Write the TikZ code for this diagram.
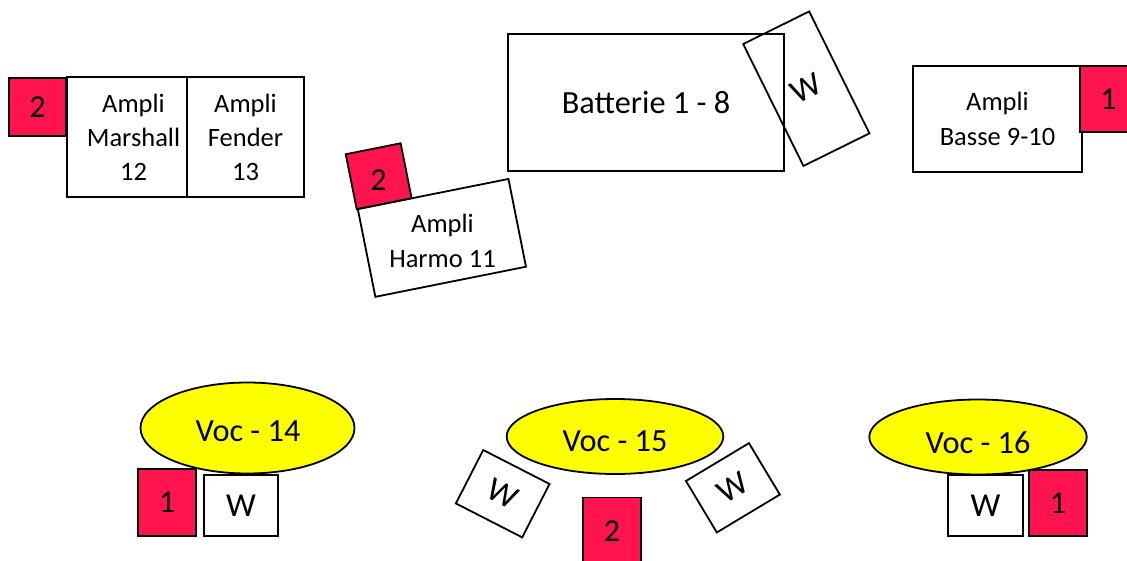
\documentclass[tikz,border=0pt]{standalone}
\usepackage{fontspec}
\setmainfont{Carlito}
\usetikzlibrary{shapes.geometric}
\definecolor{micred}{RGB}{255,20,80}
\definecolor{vocyellow}{RGB}{255,255,0}
\begin{document}
\begin{tikzpicture}[x=1pt,y=-1pt,
  base/.style={draw=black,line width=1.8pt,inner sep=0pt,align=center},
  ampbox/.style={base,fill=white,rectangle,font=\fontsize{26.5}{34}\selectfont},
  bigbox/.style={base,fill=white,rectangle,font=\fontsize{32.3}{38}\selectfont},
  redbox/.style={base,fill=micred,rectangle,font=\fontsize{32}{38}\selectfont},
  wbox/.style={base,fill=white,rectangle,font=\fontsize{33.5}{39}\selectfont},
  wopen/.style={base,rectangle,font=\fontsize{33.5}{39}\selectfont},
  voc/.style={base,fill=vocyellow,ellipse},
  voctxt/.style={inner sep=0pt,font=\fontsize{32.3}{38}\selectfont},
  lbl/.style={inner sep=0pt,align=center}]
\clip (0,0) rectangle (1127,561);
\fill[white] (0,0) rectangle (1127,561);

% Marshall / Fender
\node[redbox,minimum width=57pt,minimum height=58pt] (red2a) at (37.5,107) {2};
\node[ampbox,minimum width=120pt,minimum height=120pt] (marshall) at (127,137) {};
\node[lbl,font=\fontsize{26.5}{34}\selectfont] (marshalltxt) at (133.5,137.5) {Ampli\\Marshall\\12};
\node[ampbox,minimum width=117pt,minimum height=120pt] (fender) at (245.5,137) {Ampli\\Fender\\13};

% Harmo
\node[ampbox,rotate=11.3,minimum width=153.6pt,minimum height=89.5pt] (harmo) at (441.9,237.9) {};
\node[lbl,font=\fontsize{26.5}{35}\selectfont] (harmotxt) at (442.5,241) {Ampli\\Harmo 11};
\node[redbox,rotate=11.3,minimum width=56pt,minimum height=56pt] (red2b) at (378.7,176.2) {};
\node[lbl,font=\fontsize{32}{38}\selectfont] (red2btxt) at (378.5,180) {2};

% Batterie
\node[bigbox,minimum width=276pt,minimum height=137pt] (batterie) at (646,102.5) {Batterie 1 - 8};
\node[wopen,rotate=26.3,minimum width=73.6pt,minimum height=136pt] (battw) at (806.3,88.7) {W};

% Basse
\node[ampbox,minimum width=169pt,minimum height=106pt,font=\fontsize{26.5}{35.3}\selectfont] (basse) at (997.5,119) {Ampli\\Basse 9-10};
\node[redbox,minimum width=57pt,minimum height=66pt] (red1a) at (1108.5,99) {1};

% Voc 14
\node[voc,minimum width=214pt,minimum height=91pt] (voc14) at (247.5,428) {};
\node[voctxt] (voc14txt) at (248,431) {Voc - 14};
\node[redbox,minimum width=58pt,minimum height=67pt] (red1b) at (167,502.5) {1};
\node[wbox,minimum width=74pt,minimum height=61pt] (w14) at (241,505.5) {W};

% Voc 15
\node[voc,minimum width=216.6pt,minimum height=75pt] (voc15) at (615,436.5) {};
\node[voctxt] (voc15txt) at (615,441.5) {Voc - 15};
\node[wbox,rotate=-27.1,minimum width=74.5pt,minimum height=60pt] (w15a) at (502.7,493.7) {W};
\node[wbox,rotate=31,minimum width=73.5pt,minimum height=60pt] (w15b) at (732.9,487.8) {W};
\node[redbox,minimum width=58pt,minimum height=67pt] (red2c) at (612,531) {2};

% Voc 16
\node[voc,minimum width=217.4pt,minimum height=75pt] (voc16) at (978,437) {};
\node[voctxt] (voc16txt) at (978,442.5) {Voc - 16};
\node[wbox,minimum width=74.4pt,minimum height=60.7pt] (w16) at (985.5,505.4) {W};
\node[redbox,minimum width=57.4pt,minimum height=65.7pt] (red1c) at (1058,502.9) {1};
\end{tikzpicture}
\end{document}
